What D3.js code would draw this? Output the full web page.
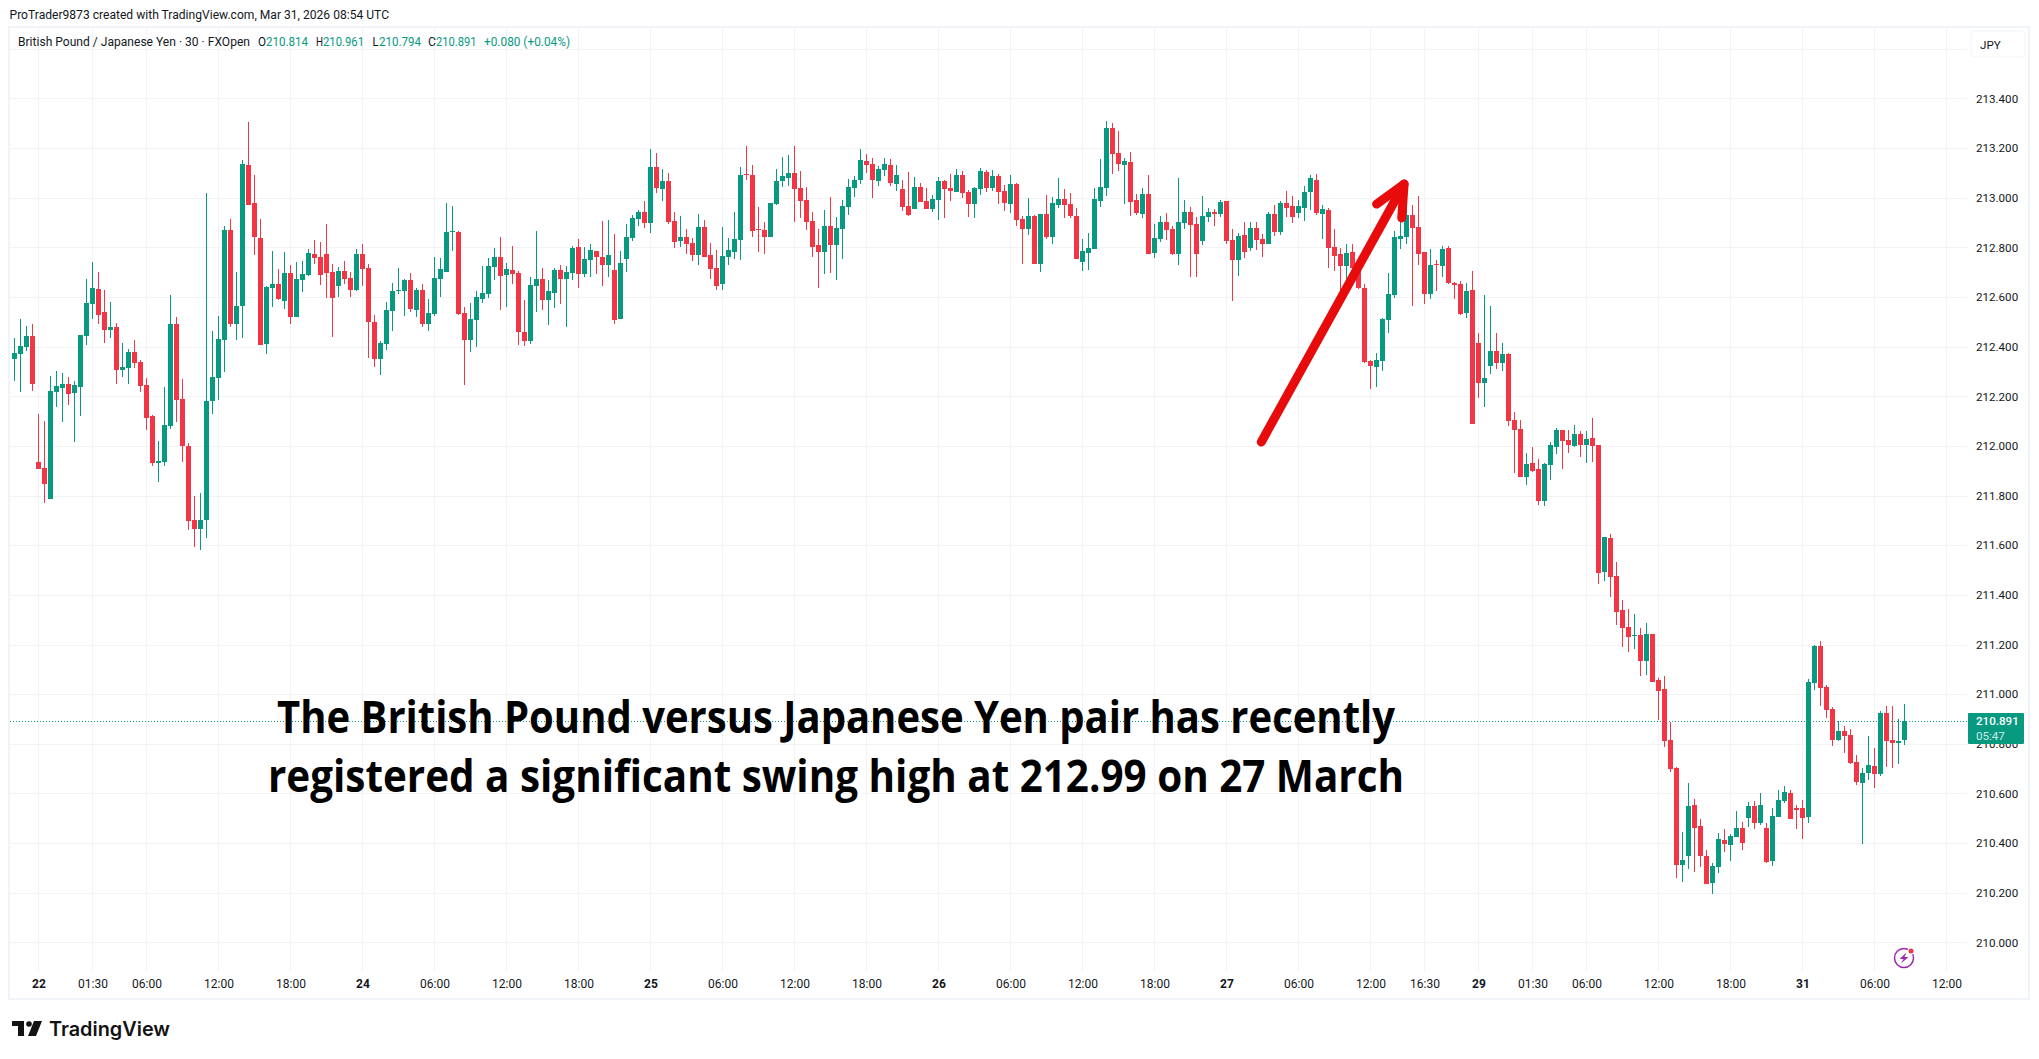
<!DOCTYPE html>
<html>
<head>
<meta charset="utf-8">
<title>GBP/JPY 30</title>
<script src="https://cdn.jsdelivr.net/npm/d3@7"></script>
<style>
  html, body { margin: 0; padding: 0; background: #fff; }
  svg { display: block; }
  text { font-family: Roboto, sans-serif; fill: #131722; }
</style>
</head>
<body>
<div id="chart"></div>
<script>
// 30 minute candles
var opens = [
  212.352,212.372,212.400,212.444,211.937,211.913,211.788,212.219,212.235,212.251,
  212.215,212.239,212.444,212.573,212.634,212.541,212.469,212.481,212.304,212.312,
  212.380,212.340,212.247,212.122,211.933,211.937,212.082,212.493,212.191,211.998,
  211.700,211.667,211.700,212.179,212.275,212.428,212.871,212.493,212.565,213.133,
  212.980,212.839,212.412,212.638,212.654,212.585,212.698,212.521,212.670,212.690,
  212.775,212.763,212.775,212.702,212.646,212.706,212.678,212.630,212.775,212.718,
  212.501,212.352,212.412,212.545,212.626,212.626,212.670,212.549,212.630,212.493,
  212.533,212.674,212.702,212.863,212.863,212.537,212.428,212.509,212.593,212.614,
  212.722,212.763,212.690,212.710,212.698,212.457,212.424,212.646,212.674,212.589,
  212.618,212.710,212.674,212.698,212.803,212.694,212.750,212.787,212.763,212.730,
  212.710,212.513,212.754,212.839,212.916,212.944,212.899,213.125,213.036,213.068,
  212.907,212.827,212.843,212.819,212.771,212.883,212.771,212.718,212.654,212.763,
  212.783,212.831,213.097,213.093,212.875,212.871,212.843,212.976,213.069,213.081,
  213.101,213.040,212.992,212.907,212.811,212.783,212.887,212.811,212.875,212.964,
  213.040,213.073,213.149,213.137,213.069,213.113,213.133,213.056,213.036,212.968,
  212.956,213.044,212.988,212.956,212.992,213.069,213.040,213.024,213.093,213.024,
  212.976,213.036,213.105,213.040,213.089,213.028,212.976,213.056,212.915,212.875,
  212.928,212.734,212.936,212.843,212.972,212.996,212.976,212.928,212.742,212.779,
  212.795,212.988,213.040,213.282,213.181,213.133,213.145,212.992,212.936,213.016,
  212.779,212.835,212.903,212.875,212.775,212.899,212.944,212.895,212.827,212.924,
  212.944,212.936,212.988,212.831,212.750,212.851,212.799,212.879,212.835,212.815,
  212.936,212.863,212.980,212.968,212.940,212.960,213.024,213.073,212.936,212.952,
  212.803,212.775,212.724,212.780,212.720,212.635,212.341,212.317,212.341,212.506,
  212.607,212.832,212.840,212.929,212.881,212.780,212.611,212.732,212.724,212.796,
  212.655,212.651,212.534,212.627,212.414,212.252,212.321,212.381,212.333,212.369,
  212.104,212.067,211.874,211.931,211.906,211.778,211.922,211.995,212.063,212.023,
  211.999,212.047,212.003,212.031,212.003,211.493,211.630,211.477,211.340,211.271,
  211.235,211.239,211.134,211.243,211.058,211.022,210.816,210.704,210.313,210.349,
  210.555,210.470,210.349,210.241,210.305,210.414,210.394,210.426,210.462,210.502,
  210.551,210.482,210.462,210.329,210.506,210.571,210.601,210.541,210.541,210.505,
  211.044,211.193,211.028,210.940,210.815,210.851,210.835,210.726,210.642,210.682,
  210.710,210.678,210.924,210.815,210.803,210.814
];
var highs = [
  212.436,212.513,212.485,212.493,212.130,212.102,212.283,212.300,212.292,212.279,
  212.263,212.448,212.674,212.742,212.702,212.630,212.581,212.497,212.416,212.392,
  212.428,212.348,212.275,212.126,212.018,212.239,212.606,212.521,212.271,212.010,
  211.800,211.812,213.020,212.465,212.525,212.887,212.916,212.702,213.153,213.306,
  213.093,212.916,212.646,212.787,212.714,212.783,212.730,212.742,212.746,212.795,
  212.831,212.823,212.895,212.734,212.722,212.746,212.702,212.795,212.815,212.734,
  212.529,212.424,212.581,212.658,212.718,212.674,212.698,212.638,212.654,212.593,
  212.763,212.759,212.980,212.968,212.867,212.561,212.577,212.626,212.726,212.759,
  212.799,212.843,212.738,212.807,212.706,212.589,212.682,212.867,212.718,212.670,
  212.718,212.730,212.726,212.807,212.835,212.803,212.815,212.787,212.907,212.911,
  212.855,212.787,212.895,212.932,212.952,212.988,213.197,213.181,213.117,213.101,
  212.944,212.928,212.875,212.839,212.936,212.912,212.819,212.791,212.883,212.839,
  212.944,213.125,213.209,213.133,212.964,212.903,212.980,213.117,213.165,213.173,
  213.209,213.109,213.044,212.944,212.875,212.952,213.004,212.924,212.992,213.077,
  213.089,213.197,213.177,213.161,213.129,213.161,213.157,213.133,213.073,213.105,
  213.085,213.060,213.040,213.012,213.085,213.073,213.097,213.117,213.109,213.032,
  213.044,213.121,213.113,213.113,213.097,213.052,213.093,213.060,212.928,213.000,
  212.932,212.936,213.012,213.004,213.081,213.036,213.020,212.960,212.835,212.859,
  213.040,213.157,213.310,213.302,213.270,213.161,213.185,213.016,213.040,213.093,
  212.895,212.928,212.940,212.887,213.081,212.992,212.964,212.924,213.008,212.960,
  212.956,212.992,212.988,212.875,212.859,212.903,212.903,212.903,212.855,212.944,
  212.972,212.988,213.028,213.008,212.992,213.048,213.093,213.097,212.972,212.960,
  212.875,212.799,212.812,212.812,212.725,212.651,212.345,212.373,212.514,212.695,
  212.865,212.933,212.957,212.969,213.005,212.780,212.792,212.748,212.804,212.804,
  212.659,212.663,212.655,212.703,212.454,212.607,212.563,212.454,212.414,212.373,
  212.136,212.104,211.971,211.995,211.947,211.931,212.015,212.071,212.063,212.063,
  212.083,212.059,212.059,212.112,212.003,211.634,211.646,211.533,211.380,211.344,
  211.324,211.267,211.287,211.243,211.066,211.074,210.889,210.708,210.446,210.643,
  210.579,210.498,210.373,210.321,210.442,210.458,210.438,210.530,210.486,210.567,
  210.571,210.603,210.482,210.543,210.615,210.631,210.614,210.553,210.573,211.061,
  211.197,211.213,211.036,210.948,210.891,210.871,210.859,210.755,210.702,210.831,
  210.783,210.932,210.952,210.952,210.899,210.961
];
var lows = [
  212.263,212.219,212.384,212.223,211.909,211.772,211.788,212.155,212.098,212.163,
  212.014,212.122,212.408,212.513,212.493,212.416,212.436,212.251,212.279,212.251,
  212.312,212.219,212.066,211.921,211.853,211.921,212.070,212.098,211.937,211.663,
  211.591,211.579,211.631,212.130,212.187,212.296,212.481,212.428,212.436,212.972,
  212.771,212.408,212.372,212.561,212.589,212.553,212.493,212.521,212.622,212.686,
  212.734,212.650,212.597,212.440,212.601,212.654,212.601,212.626,212.646,212.356,
  212.316,212.287,212.388,212.465,212.614,212.525,212.541,212.521,212.481,212.461,
  212.525,212.601,212.702,212.787,212.529,212.247,212.380,212.400,212.577,212.597,
  212.670,212.549,212.561,212.654,212.408,212.404,212.412,212.541,212.549,212.489,
  212.557,212.573,212.481,212.670,212.638,212.682,212.682,212.694,212.646,212.682,
  212.493,212.513,212.702,212.827,212.887,212.879,212.859,213.020,212.988,212.895,
  212.799,212.803,212.775,212.746,212.730,212.763,212.674,212.630,212.630,212.730,
  212.755,212.751,213.073,212.843,212.783,212.775,212.843,212.972,213.044,213.048,
  212.903,212.920,212.871,212.763,212.638,212.694,212.698,212.670,212.755,212.932,
  213.004,213.056,213.101,213.000,213.048,213.089,213.048,213.028,212.948,212.928,
  212.956,212.984,212.956,212.944,212.912,212.920,212.988,213.024,213.000,212.924,
  212.920,213.012,213.024,213.028,212.976,212.948,212.940,212.887,212.734,212.851,
  212.734,212.702,212.835,212.815,212.960,212.920,212.920,212.754,212.706,212.710,
  212.795,212.964,213.008,213.097,213.109,212.976,212.928,212.932,212.920,212.775,
  212.758,212.823,212.831,212.771,212.730,212.875,212.682,212.682,212.811,212.903,
  212.887,212.924,212.815,212.585,212.686,212.758,212.787,212.791,212.762,212.815,
  212.847,212.851,212.924,212.899,212.920,212.907,212.952,212.932,212.835,212.718,
  212.706,212.630,212.671,212.698,212.631,212.333,212.228,212.236,212.301,212.454,
  212.595,212.792,212.812,212.563,212.728,212.571,212.591,212.623,212.679,212.651,
  212.591,212.526,212.514,212.087,212.192,212.156,212.289,212.309,212.301,212.079,
  211.890,211.874,211.842,211.894,211.761,211.757,211.862,211.967,211.906,211.971,
  211.995,211.955,211.931,211.935,211.444,211.456,211.392,211.279,211.191,211.171,
  211.183,211.074,211.078,211.050,210.897,210.788,210.687,210.261,210.245,210.297,
  210.285,210.305,210.237,210.196,210.281,210.365,210.329,210.426,210.373,210.466,
  210.458,210.474,210.321,210.309,210.506,210.563,210.497,210.457,210.416,210.481,
  211.016,210.952,210.904,210.791,210.811,210.762,210.718,210.634,210.396,210.654,
  210.622,210.670,210.706,210.702,210.718,210.794
];
var closes = [
  212.376,212.404,212.444,212.251,211.909,211.845,212.223,212.243,212.251,212.211,
  212.247,212.448,212.577,212.638,212.529,212.469,212.481,212.304,212.316,212.380,
  212.336,212.243,212.114,211.933,211.941,212.086,212.493,212.187,211.998,211.696,
  211.667,211.700,212.183,212.279,212.432,212.871,212.493,212.565,213.137,212.972,
  212.843,212.408,212.642,212.654,212.593,212.698,212.521,212.674,212.694,212.779,
  212.759,212.690,212.698,212.597,212.706,212.674,212.630,212.775,212.714,212.501,
  212.352,212.416,212.549,212.626,212.630,212.670,212.553,212.630,212.493,212.537,
  212.678,212.714,212.863,212.867,212.533,212.428,212.513,212.601,212.618,212.726,
  212.763,212.686,212.714,212.694,212.457,212.424,212.650,212.674,212.589,212.626,
  212.710,212.674,212.702,212.799,212.694,212.754,212.791,212.763,212.730,212.771,
  212.509,212.738,212.843,212.920,212.944,212.899,213.125,213.040,213.068,212.903,
  212.823,212.843,212.815,212.771,212.883,212.763,212.714,212.646,212.767,212.791,
  212.835,213.093,213.093,212.867,212.871,212.843,212.980,213.069,213.089,213.101,
  213.036,212.988,212.903,212.803,212.783,212.887,212.811,212.879,212.968,213.044,
  213.073,213.153,213.133,213.073,213.117,213.137,213.060,213.093,212.964,212.932,
  213.044,212.984,212.956,212.996,213.069,213.036,213.028,213.093,213.020,212.976,
  213.040,213.109,213.040,213.089,213.024,212.980,213.056,212.912,212.875,212.928,
  212.734,212.936,212.843,212.980,212.996,212.972,212.928,212.754,212.787,212.799,
  212.996,213.044,213.282,213.177,213.137,213.149,212.984,212.940,213.016,212.775,
  212.839,212.903,212.871,212.775,212.903,212.944,212.891,212.775,212.928,212.944,
  212.936,212.984,212.827,212.750,212.847,212.783,212.879,212.831,212.815,212.936,
  212.863,212.980,212.960,212.924,212.968,213.024,213.081,212.940,212.956,212.799,
  212.767,212.726,212.776,212.716,212.635,212.337,212.321,212.345,212.510,212.611,
  212.840,212.844,212.929,212.877,212.772,212.611,212.728,212.728,212.792,212.655,
  212.647,212.530,212.623,212.087,212.252,212.273,212.381,212.333,212.369,212.100,
  212.063,211.874,211.926,211.898,211.778,211.926,212.003,212.063,212.019,212.003,
  212.047,212.003,212.027,211.999,211.489,211.634,211.473,211.332,211.267,211.231,
  211.239,211.134,211.243,211.050,211.014,210.812,210.699,210.313,210.333,210.551,
  210.462,210.349,210.237,210.309,210.418,210.398,210.430,210.462,210.402,210.551,
  210.482,210.555,210.325,210.510,210.575,210.607,210.497,210.533,210.501,211.048,
  211.193,211.024,210.936,210.815,210.851,210.831,210.722,210.646,210.682,210.714,
  210.678,210.924,210.811,210.803,210.811,210.891
];

// time axis: bar number of each tick and its label
var timeTicks = [4,13,22,34,46,58,70,82,94,106,118,130,142,154,166,178,190,202,214,226,235,244,253,262,274,286,298,310,322];
var timeLabels = ["22","01:30","06:00","12:00","18:00","24","06:00","12:00","18:00","25","06:00","12:00","18:00","26","06:00","12:00","18:00","27","06:00","12:00","16:30","29","01:30","06:00","12:00","18:00","31","06:00","12:00"];
var dayLabels = ["22","24","25","26","27","29","31"];

var priceTicks = [210,210.2,210.4,210.6,210.8,211,211.2,211.4,211.6,211.8,212,212.2,212.4,212.6,212.8,213,213.2,213.4];
var gridPrices = priceTicks.concat([213.6]);

var lastPrice = 210.891;
var countdown = "05:47";
var upColor = "#089981", downColor = "#f23645", gridColor = "#f2f3f5", frameColor = "#f0f3f7";

var arrowFrom = [207.8, 212.016], arrowTip = [231.6, 213.055];  // [bar, price]

var headline = ["The British Pound versus Japanese Yen pair has recently", "registered a significant swing high at 212.99 on 27 March"];

var width = 2039, height = 1059;
var left = 10, right = 1967, top_ = 28, bottom = 971;

var svg = d3.select("#chart").append("svg")
    .attr("width", width)
    .attr("height", height);

var x = d3.scaleLinear().domain([0, 322]).range([14.5, 1946.5]);
var y = d3.scaleLinear().domain([210, 213.4]).range([942.4, 98.4]);

// frame round the chart
svg.append("rect")
    .attr("x", 9).attr("y", 27).attr("width", 2020).attr("height", 972)
    .attr("fill", "none")
    .attr("stroke", frameColor)
    .attr("stroke-width", 2);

// gridlines
svg.append("g").selectAll("line.h")
    .data(gridPrices)
    .enter().append("line")
    .attr("x1", left).attr("x2", right)
    .attr("y1", function (d) { return Math.round(y(d)) + 0.5 })
    .attr("y2", function (d) { return Math.round(y(d)) + 0.5 })
    .attr("stroke", gridColor);

svg.append("g").selectAll("line.v")
    .data(timeTicks)
    .enter().append("line")
    .attr("x1", function (d) { return Math.floor(x(d)) + 0.5 })
    .attr("x2", function (d) { return Math.floor(x(d)) + 0.5 })
    .attr("y1", top_).attr("y2", bottom)
    .attr("stroke", gridColor);

// price axis
var yAxis = d3.axisRight(y)
    .tickValues(priceTicks)
    .tickSize(0)
    .tickPadding(0)
    .tickFormat(d3.format(".3f"));
svg.append("g")
    .attr("transform", "translate(1976,0)")
    .call(yAxis)
    .call(function (g) { g.select(".domain").remove() })
    .selectAll("text")
    .style("font-family", "Roboto, sans-serif")
    .style("font-size", "11.6px")
    .attr("fill", "#131722");

// time axis
var xAxis = d3.axisBottom(x)
    .tickValues(timeTicks)
    .tickSize(0)
    .tickPadding(0)
    .tickFormat(function (d, i) { return timeLabels[i] });
svg.append("g")
    .attr("transform", "translate(0,979)")
    .call(xAxis)
    .call(function (g) { g.select(".domain").remove() })
    .selectAll("text")
    .style("font-family", "Roboto, sans-serif")
    .style("font-size", "12px")
    .style("font-weight", function (d, i) { return dayLabels.indexOf(timeLabels[i]) >= 0 ? 700 : 400 })
    .attr("fill", "#131722");

// last price dotted line
svg.append("line")
    .attr("x1", left).attr("x2", 1968)
    .attr("y1", Math.floor(y(lastPrice)) + 0.5).attr("y2", Math.floor(y(lastPrice)) + 0.5)
    .attr("stroke", upColor)
    .attr("stroke-dasharray", "1 2");

// candles
var bars = d3.range(opens.length);
var candleColor = function (i) { return closes[i] >= opens[i] ? upColor : downColor };

svg.append("g").selectAll("rect.wick")
    .data(bars)
    .enter().append("rect")
    .attr("x", function (i) { return Math.floor(x(i)) })
    .attr("y", function (i) { return Math.round(y(highs[i])) })
    .attr("width", 1)
    .attr("height", function (i) { return Math.max(1, Math.round(y(lows[i])) - Math.round(y(highs[i]))) })
    .attr("fill", candleColor);

svg.append("g").selectAll("rect.body")
    .data(bars)
    .enter().append("rect")
    .attr("x", function (i) { return Math.floor(x(i)) - 2 })
    .attr("y", function (i) { return Math.round(y(Math.max(opens[i], closes[i]))) })
    .attr("width", 5)
    .attr("height", function (i) { return Math.max(1, Math.round(y(Math.min(opens[i], closes[i]))) - Math.round(y(Math.max(opens[i], closes[i])))) })
    .attr("fill", candleColor);

// red arrow
var tipX = x(arrowTip[0]), tipY = y(arrowTip[1]);
var ang = Math.atan2(y(arrowFrom[1]) - tipY, x(arrowFrom[0]) - tipX);
var headLen = 34, headAng = 25 * Math.PI / 180;
var wing = function (s) { return [tipX + headLen * Math.cos(ang + s * headAng), tipY + headLen * Math.sin(ang + s * headAng)] };
var arrowLine = d3.line();
var arrowG = svg.append("g")
    .attr("fill", "none")
    .attr("stroke", "#e80b0b")
    .attr("stroke-width", 9)
    .attr("stroke-linecap", "round")
    .attr("stroke-linejoin", "round");
arrowG.append("path").attr("d", arrowLine([[x(arrowFrom[0]), y(arrowFrom[1])], [tipX, tipY]]));
arrowG.append("path").attr("d", arrowLine([wing(1), [tipX, tipY], wing(-1)]));

// headline
svg.append("g").selectAll("text")
    .data(headline)
    .enter().append("text")
    .attr("x", 836)
    .attr("y", function (d, i) { return 733 + i * 59 })
    .attr("text-anchor", "middle")
    .attr("textLength", function (d, i) { return i == 0 ? 1118 : 1136 })
    .attr("lengthAdjust", "spacingAndGlyphs")
    .style("font-family", "'Open Sans', sans-serif")
    .style("font-weight", 700)
    .style("font-size", "44px")
    .style("fill", "#000")
    .text(function (d) { return d });

// last price tag
svg.append("rect")
    .attr("x", 1968).attr("y", 713).attr("width", 56).attr("height", 31)
    .attr("rx", 1)
    .attr("fill", upColor);
svg.append("text").attr("x", 1976).attr("y", 725)
    .style("fill", "#fff").style("font-size", "11.6px").style("font-weight", 500)
    .text(d3.format(".3f")(lastPrice));
svg.append("text").attr("x", 1976).attr("y", 740)
    .style("fill", "#cdeae4").style("font-size", "11.6px")
    .text(countdown);

// currency box
svg.append("rect")
    .attr("x", 1971).attr("y", 31).attr("width", 54).attr("height", 26)
    .attr("rx", 4)
    .attr("fill", "#fff")
    .attr("stroke", frameColor);
svg.append("text").attr("x", 1980).attr("y", 49)
    .style("font-size", "11.6px")
    .text("JPY");

// header and legend
svg.append("text").attr("x", 9.5).attr("y", 19)
    .attr("textLength", 379.5).attr("lengthAdjust", "spacingAndGlyphs")
    .style("font-size", "12.5px")
    .text("ProTrader9873 created with TradingView.com, Mar 31, 2026 08:54 UTC");

var legend = [
  { x: 18, w: 232, t: "British Pound / Japanese Yen · 30 · FXOpen", c: "#131722" },
  { x: 258, w: 8, t: "O", c: "#131722" },
  { x: 266, w: 42, t: "210.814", c: upColor },
  { x: 316, w: 7, t: "H", c: "#131722" },
  { x: 323, w: 41, t: "210.961", c: upColor },
  { x: 372.5, w: 6, t: "L", c: "#131722" },
  { x: 379, w: 42, t: "210.794", c: upColor },
  { x: 428, w: 8, t: "C", c: "#131722" },
  { x: 436, w: 40.5, t: "210.891", c: upColor },
  { x: 484, w: 86, t: "+0.080 (+0.04%)", c: upColor }
];
svg.append("g").selectAll("text")
    .data(legend)
    .enter().append("text")
    .attr("x", function (d) { return d.x })
    .attr("y", 46)
    .attr("textLength", function (d) { return d.w })
    .attr("lengthAdjust", "spacingAndGlyphs")
    .style("font-size", "12.5px")
    .style("fill", function (d) { return d.c })
    .text(function (d) { return d.t });

// lightning badge
var badge = svg.append("g").attr("transform", "translate(1904,958)");
badge.append("circle").attr("r", 9.5).attr("fill", "none").attr("stroke", "#9c27b0").attr("stroke-width", 1.5);
badge.append("path").attr("d", "M2.5,-5.5 L-4.5,1 L-0.5,1 L-3,5.5 L4.5,-1 L0.5,-1 Z").attr("fill", "#9c27b0");
badge.append("circle").attr("cx", 7).attr("cy", -7).attr("r", 3.5).attr("fill", "#fff");
badge.append("circle").attr("cx", 7).attr("cy", -7).attr("r", 2.5).attr("fill", "#f23645");

// logo
var logo = svg.append("g").attr("fill", "#131313");
logo.append("path").attr("d", "M12,1021 H24 V1036 H18 V1026 H12 Z");
logo.append("circle").attr("cx", 29).attr("cy", 1024).attr("r", 2.8);
logo.append("path").attr("d", "M34,1021 H42 L36,1036 H28 Z");
svg.append("text").attr("x", 49).attr("y", 1036)
    .attr("textLength", 121).attr("lengthAdjust", "spacingAndGlyphs")
    .style("font-family", "Inter, sans-serif")
    .style("font-weight", 600)
    .style("font-size", "20px")
    .style("fill", "#131313")
    .text("TradingView");
</script>
</body>
</html>
